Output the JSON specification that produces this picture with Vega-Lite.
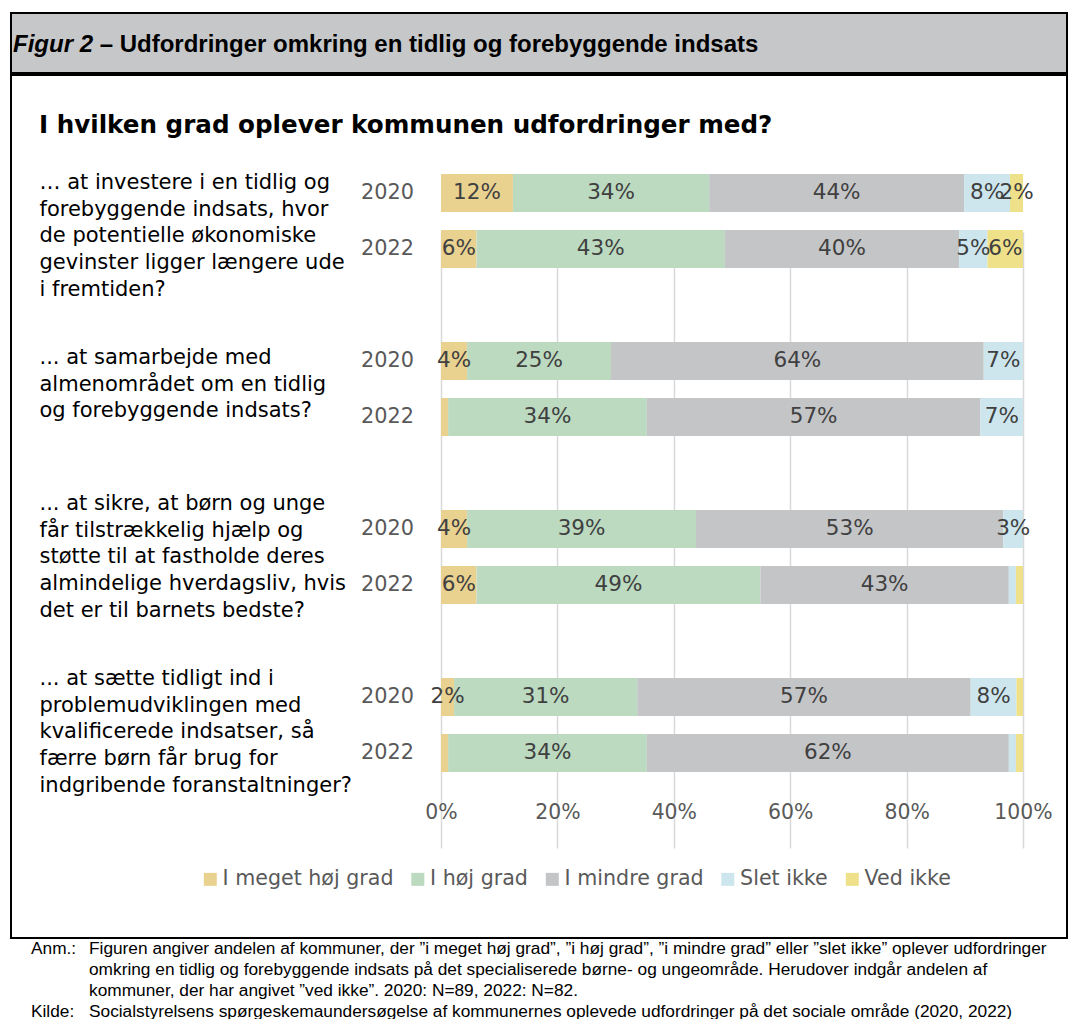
{
  "$schema": "https://vega.github.io/schema/vega-lite/v6.json",
  "padding": {"left": 10, "top": 12, "right": 0, "bottom": 0},
  "background": "white",
  "spacing": 0,
  "config": {"view": {"stroke": null}, "concat": {"spacing": 0}, "font": "DejaVu Sans"},
  "datasets": {
    "d": [
      {"g": "… at investere i en tidlig og|forebyggende indsats, hvor|de potentielle økonomiske|gevinster ligger længere ude|i fremtiden?", "year": "2020", "cat": "I meget høj grad", "k": 1, "pct": 0.1236},
      {"g": "… at investere i en tidlig og|forebyggende indsats, hvor|de potentielle økonomiske|gevinster ligger længere ude|i fremtiden?", "year": "2020", "cat": "I høj grad", "k": 2, "pct": 0.3371},
      {"g": "… at investere i en tidlig og|forebyggende indsats, hvor|de potentielle økonomiske|gevinster ligger længere ude|i fremtiden?", "year": "2020", "cat": "I mindre grad", "k": 3, "pct": 0.4382},
      {"g": "… at investere i en tidlig og|forebyggende indsats, hvor|de potentielle økonomiske|gevinster ligger længere ude|i fremtiden?", "year": "2020", "cat": "Slet ikke", "k": 4, "pct": 0.0787},
      {"g": "… at investere i en tidlig og|forebyggende indsats, hvor|de potentielle økonomiske|gevinster ligger længere ude|i fremtiden?", "year": "2020", "cat": "Ved ikke", "k": 5, "pct": 0.0225},
      {"g": "… at investere i en tidlig og|forebyggende indsats, hvor|de potentielle økonomiske|gevinster ligger længere ude|i fremtiden?", "year": "2022", "cat": "I meget høj grad", "k": 1, "pct": 0.0610},
      {"g": "… at investere i en tidlig og|forebyggende indsats, hvor|de potentielle økonomiske|gevinster ligger længere ude|i fremtiden?", "year": "2022", "cat": "I høj grad", "k": 2, "pct": 0.4268},
      {"g": "… at investere i en tidlig og|forebyggende indsats, hvor|de potentielle økonomiske|gevinster ligger længere ude|i fremtiden?", "year": "2022", "cat": "I mindre grad", "k": 3, "pct": 0.4024},
      {"g": "… at investere i en tidlig og|forebyggende indsats, hvor|de potentielle økonomiske|gevinster ligger længere ude|i fremtiden?", "year": "2022", "cat": "Slet ikke", "k": 4, "pct": 0.0488},
      {"g": "… at investere i en tidlig og|forebyggende indsats, hvor|de potentielle økonomiske|gevinster ligger længere ude|i fremtiden?", "year": "2022", "cat": "Ved ikke", "k": 5, "pct": 0.0610},
      {"g": "... at samarbejde med|almenområdet om en tidlig|og forebyggende indsats?", "year": "2020", "cat": "I meget høj grad", "k": 1, "pct": 0.0449},
      {"g": "... at samarbejde med|almenområdet om en tidlig|og forebyggende indsats?", "year": "2020", "cat": "I høj grad", "k": 2, "pct": 0.2472},
      {"g": "... at samarbejde med|almenområdet om en tidlig|og forebyggende indsats?", "year": "2020", "cat": "I mindre grad", "k": 3, "pct": 0.6404},
      {"g": "... at samarbejde med|almenområdet om en tidlig|og forebyggende indsats?", "year": "2020", "cat": "Slet ikke", "k": 4, "pct": 0.0674},
      {"g": "... at samarbejde med|almenområdet om en tidlig|og forebyggende indsats?", "year": "2020", "cat": "Ved ikke", "k": 5, "pct": 0},
      {"g": "... at samarbejde med|almenområdet om en tidlig|og forebyggende indsats?", "year": "2022", "cat": "I meget høj grad", "k": 1, "pct": 0.0122},
      {"g": "... at samarbejde med|almenområdet om en tidlig|og forebyggende indsats?", "year": "2022", "cat": "I høj grad", "k": 2, "pct": 0.3415},
      {"g": "... at samarbejde med|almenområdet om en tidlig|og forebyggende indsats?", "year": "2022", "cat": "I mindre grad", "k": 3, "pct": 0.5732},
      {"g": "... at samarbejde med|almenområdet om en tidlig|og forebyggende indsats?", "year": "2022", "cat": "Slet ikke", "k": 4, "pct": 0.0732},
      {"g": "... at samarbejde med|almenområdet om en tidlig|og forebyggende indsats?", "year": "2022", "cat": "Ved ikke", "k": 5, "pct": 0},
      {"g": "... at sikre, at børn og unge|får tilstrækkelig hjælp og|støtte til at fastholde deres|almindelige hverdagsliv, hvis|det er til barnets bedste?", "year": "2020", "cat": "I meget høj grad", "k": 1, "pct": 0.0449},
      {"g": "... at sikre, at børn og unge|får tilstrækkelig hjælp og|støtte til at fastholde deres|almindelige hverdagsliv, hvis|det er til barnets bedste?", "year": "2020", "cat": "I høj grad", "k": 2, "pct": 0.3933},
      {"g": "... at sikre, at børn og unge|får tilstrækkelig hjælp og|støtte til at fastholde deres|almindelige hverdagsliv, hvis|det er til barnets bedste?", "year": "2020", "cat": "I mindre grad", "k": 3, "pct": 0.5281},
      {"g": "... at sikre, at børn og unge|får tilstrækkelig hjælp og|støtte til at fastholde deres|almindelige hverdagsliv, hvis|det er til barnets bedste?", "year": "2020", "cat": "Slet ikke", "k": 4, "pct": 0.0337},
      {"g": "... at sikre, at børn og unge|får tilstrækkelig hjælp og|støtte til at fastholde deres|almindelige hverdagsliv, hvis|det er til barnets bedste?", "year": "2020", "cat": "Ved ikke", "k": 5, "pct": 0},
      {"g": "... at sikre, at børn og unge|får tilstrækkelig hjælp og|støtte til at fastholde deres|almindelige hverdagsliv, hvis|det er til barnets bedste?", "year": "2022", "cat": "I meget høj grad", "k": 1, "pct": 0.0610},
      {"g": "... at sikre, at børn og unge|får tilstrækkelig hjælp og|støtte til at fastholde deres|almindelige hverdagsliv, hvis|det er til barnets bedste?", "year": "2022", "cat": "I høj grad", "k": 2, "pct": 0.4878},
      {"g": "... at sikre, at børn og unge|får tilstrækkelig hjælp og|støtte til at fastholde deres|almindelige hverdagsliv, hvis|det er til barnets bedste?", "year": "2022", "cat": "I mindre grad", "k": 3, "pct": 0.4268},
      {"g": "... at sikre, at børn og unge|får tilstrækkelig hjælp og|støtte til at fastholde deres|almindelige hverdagsliv, hvis|det er til barnets bedste?", "year": "2022", "cat": "Slet ikke", "k": 4, "pct": 0.0122},
      {"g": "... at sikre, at børn og unge|får tilstrækkelig hjælp og|støtte til at fastholde deres|almindelige hverdagsliv, hvis|det er til barnets bedste?", "year": "2022", "cat": "Ved ikke", "k": 5, "pct": 0.0122},
      {"g": "... at sætte tidligt ind i|problemudviklingen med|kvalificerede indsatser, så|færre børn får brug for|indgribende foranstaltninger?", "year": "2020", "cat": "I meget høj grad", "k": 1, "pct": 0.0225},
      {"g": "... at sætte tidligt ind i|problemudviklingen med|kvalificerede indsatser, så|færre børn får brug for|indgribende foranstaltninger?", "year": "2020", "cat": "I høj grad", "k": 2, "pct": 0.3146},
      {"g": "... at sætte tidligt ind i|problemudviklingen med|kvalificerede indsatser, så|færre børn får brug for|indgribende foranstaltninger?", "year": "2020", "cat": "I mindre grad", "k": 3, "pct": 0.5730},
      {"g": "... at sætte tidligt ind i|problemudviklingen med|kvalificerede indsatser, så|færre børn får brug for|indgribende foranstaltninger?", "year": "2020", "cat": "Slet ikke", "k": 4, "pct": 0.0787},
      {"g": "... at sætte tidligt ind i|problemudviklingen med|kvalificerede indsatser, så|færre børn får brug for|indgribende foranstaltninger?", "year": "2020", "cat": "Ved ikke", "k": 5, "pct": 0.0112},
      {"g": "... at sætte tidligt ind i|problemudviklingen med|kvalificerede indsatser, så|færre børn får brug for|indgribende foranstaltninger?", "year": "2022", "cat": "I meget høj grad", "k": 1, "pct": 0.0122},
      {"g": "... at sætte tidligt ind i|problemudviklingen med|kvalificerede indsatser, så|færre børn får brug for|indgribende foranstaltninger?", "year": "2022", "cat": "I høj grad", "k": 2, "pct": 0.3415},
      {"g": "... at sætte tidligt ind i|problemudviklingen med|kvalificerede indsatser, så|færre børn får brug for|indgribende foranstaltninger?", "year": "2022", "cat": "I mindre grad", "k": 3, "pct": 0.6220},
      {"g": "... at sætte tidligt ind i|problemudviklingen med|kvalificerede indsatser, så|færre børn får brug for|indgribende foranstaltninger?", "year": "2022", "cat": "Slet ikke", "k": 4, "pct": 0.0122},
      {"g": "... at sætte tidligt ind i|problemudviklingen med|kvalificerede indsatser, så|færre børn får brug for|indgribende foranstaltninger?", "year": "2022", "cat": "Ved ikke", "k": 5, "pct": 0.0122}
    ]
  },
  "vconcat": [
    {
      "width": 1056,
      "height": 60,
      "view": {"fill": "#C6C7C9", "stroke": "black", "strokeWidth": 2},
      "data": {"values": []},
      "mark": "point",
      "encoding": {},
      "title": {
        "text": "Figur 2",
        "subtitle": "\u200b\u00a0\u00a0\u00a0\u00a0\u00a0\u00a0\u00a0\u00a0\u00a0\u00a0\u00a0\u00a0\u00a0– Udfordringer omkring en tidlig og forebyggende indsats",
        "anchor": "start",
        "frame": "group",
        "orient": "top",
        "baseline": "top",
        "offset": -44,
        "dx": 2,
        "font": "Liberation Sans",
        "fontSize": 24,
        "fontWeight": "bold",
        "fontStyle": "italic",
        "color": "black",
        "lineHeight": 24,
        "subtitleFont": "Liberation Sans",
        "subtitleFontSize": 24,
        "subtitleFontWeight": "bold",
        "subtitleFontStyle": "normal",
        "subtitleColor": "black",
        "subtitleLineHeight": 24,
        "subtitlePadding": -24
      }
    },
    {
      "width": 1056,
      "height": 863,
      "view": {"fill": "white", "stroke": "black", "strokeWidth": 2},
      "title": {
        "text": "I hvilken grad oplever kommunen udfordringer med?",
        "anchor": "start",
        "frame": "group",
        "orient": "top",
        "baseline": "top",
        "offset": -64,
        "dx": 28,
        "font": "DejaVu Sans",
        "fontSize": 24.6,
        "fontWeight": "bold",
        "color": "black"
      },
      "data": {"name": "d"},
      "encoding": {
        "y": {
          "field": "g",
          "type": "nominal",
          "sort": null,
          "scale": {"range": [90, 706], "paddingInner": 0.3333, "paddingOuter": 0},
          "axis": {
            "title": null,
            "orient": "left",
            "domain": false,
            "ticks": false,
            "grid": false,
            "labelExpr": "split(datum.label, '|')",
            "labelAlign": "left",
            "labelPadding": -28,
            "labelLimit": 600,
            "labelFont": "DejaVu Sans",
            "labelFontSize": 21,
            "labelColor": "black",
            "labelLineHeight": 26.7,
            "labelOffset": {
              "condition": [
                {"test": "indexof(datum.value, 'investere') >= 0", "value": -38},
                {"test": "indexof(datum.value, 'samarbejde') >= 0", "value": -31},
                {"test": "indexof(datum.value, 'sikre') >= 0", "value": -53}
              ],
              "value": -46
            }
          }
        },
        "yOffset": {
          "field": "year",
          "type": "nominal",
          "scale": {"paddingInner": 0.3214, "paddingOuter": 0.1607}
        }
      },
      "layer": [
        {
          "mark": {"type": "bar"},
          "encoding": {
            "x": {
              "field": "pct",
              "type": "quantitative",
              "stack": "zero",
              "title": null,
              "scale": {"domain": [0, 1], "range": [430, 1012], "nice": false},
              "axis": {
                "title": null,
                "orient": "bottom",
                "offset": -145,
                "values": [0, 0.2, 0.4, 0.6, 0.8, 1],
                "format": ".0%",
                "domain": false,
                "ticks": false,
                "grid": true,
                "gridColor": "#D9D9D9",
                "gridWidth": 1.5,
                "labelFont": "DejaVu Sans",
                "labelFontSize": 20.4,
                "labelColor": "#595959",
                "labelPadding": 9,
                "labelFlush": false,
                "labelOverlap": false
              }
            },
            "color": {
              "field": "cat",
              "type": "nominal",
              "scale": {
                "domain": ["I meget høj grad", "I høj grad", "I mindre grad", "Slet ikke", "Ved ikke"],
                "range": ["#E9D190", "#BBDAC0", "#C4C5C7", "#CDE6EE", "#EEE18A"]
              },
              "legend": {
                "title": null,
                "orient": "none",
                "legendX": 189,
                "legendY": 856,
                "direction": "horizontal",
                "symbolType": "square",
                "symbolSize": 169,
                "symbolStrokeWidth": 0,
                "labelFont": "DejaVu Sans",
                "labelFontSize": 20.6,
                "labelColor": "#595959",
                "labelOffset": 2,
                "labelLimit": 400,
                "columnPadding": 13.5,
                "padding": 0
              }
            },
            "order": {"field": "k", "type": "quantitative"}
          }
        },
        {
          "mark": {"type": "text", "font": "DejaVu Sans", "fontSize": 21.5, "color": "#404040", "baseline": "middle", "align": "center"},
          "encoding": {
            "x": {"field": "pct", "type": "quantitative", "stack": "zero", "bandPosition": 0.5, "title": null},
            "detail": {"field": "cat"},
            "order": {"field": "k", "type": "quantitative"},
            "text": {"condition": {"test": "datum.pct < 0.015", "value": ""}, "field": "pct", "type": "quantitative", "format": ".0%"}
          }
        },
        {
          "transform": [{"filter": "datum.k == 1"}],
          "mark": {"type": "text", "font": "DejaVu Sans", "fontSize": 20.8, "color": "#595959", "baseline": "middle", "align": "right", "dx": -27},
          "encoding": {
            "x": {"datum": 0, "title": null},
            "text": {"field": "year"}
          }
        }
      ]
    },
    {
      "hconcat": [
        {
          "width": 68,
          "height": 84,
          "data": {"values": []},
          "mark": "point",
          "encoding": {},
          "title": {
            "text": "Anm.:",
            "subtitle": "Kilde:",
            "anchor": "start",
            "frame": "group",
            "orient": "top",
            "baseline": "top",
            "offset": -79,
            "dx": 20,
            "font": "Liberation Sans",
            "fontSize": 17.3,
            "fontWeight": "normal",
            "lineHeight": 21,
            "color": "black",
            "subtitleFont": "Liberation Sans",
            "subtitleFontSize": 17.3,
            "subtitleFontWeight": "normal",
            "subtitleColor": "black",
            "subtitleLineHeight": 21,
            "subtitlePadding": 45.7
          }
        },
        {
          "width": 988,
          "height": 84,
          "data": {"values": []},
          "mark": "point",
          "encoding": {},
          "title": {
            "text": [
              "Figuren angiver andelen af kommuner, der ”i meget høj grad”, ”i høj grad”, ”i mindre grad” eller ”slet ikke” oplever udfordringer",
              "omkring en tidlig og forebyggende indsats på det specialiserede børne- og ungeområde. Herudover indgår andelen af",
              "kommuner, der har angivet ”ved ikke”. 2020: N=89, 2022: N=82.",
              "Socialstyrelsens spørgeskemaundersøgelse af kommunernes oplevede udfordringer på det sociale område (2020, 2022)"
            ],
            "anchor": "start",
            "frame": "group",
            "orient": "top",
            "baseline": "top",
            "offset": -79,
            "dx": 10,
            "font": "Liberation Sans",
            "fontSize": 17.3,
            "fontWeight": "normal",
            "lineHeight": 21,
            "color": "black"
          }
        }
      ]
    }
  ]
}
